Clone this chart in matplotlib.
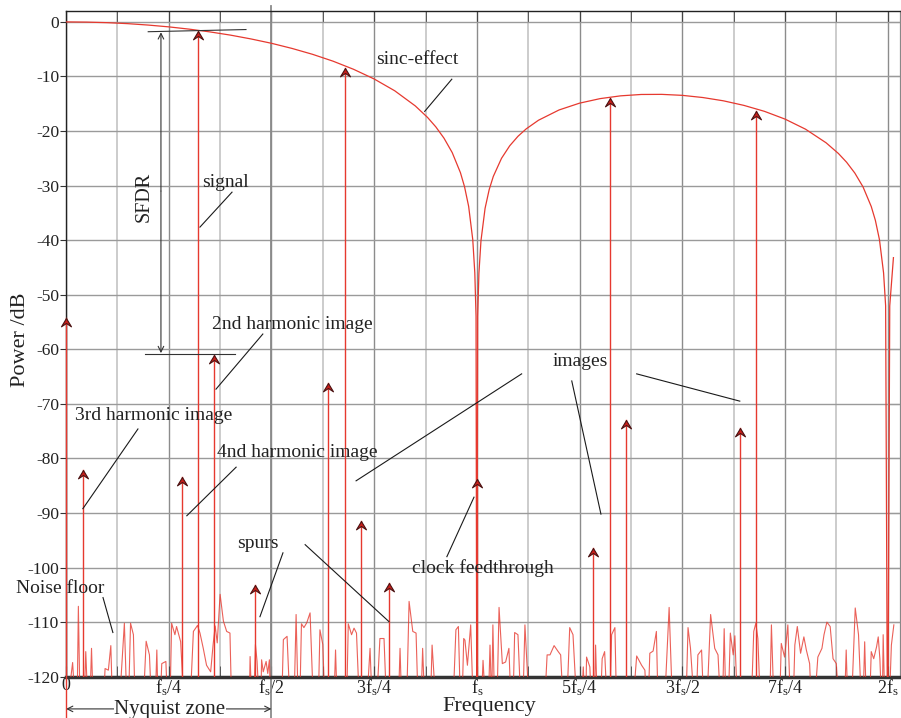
import numpy as np
import matplotlib
matplotlib.use("Agg")
import matplotlib.pyplot as plt
from matplotlib.path import Path

plt.rcParams['font.family'] = ['Liberation Serif', 'DejaVu Serif']
plt.rcParams['mathtext.fontset'] = 'custom'
plt.rcParams['mathtext.rm'] = 'Liberation Serif'
plt.rcParams['mathtext.it'] = 'Liberation Serif:italic'

# frequency in units of fs, power in dB
sinc_f = [0.0, 0.05, 0.1, 0.15, 0.2, 0.25, 0.3, 0.35, 0.4, 0.45, 0.5, 0.55, 0.6, 0.65,
          0.7, 0.75, 0.8, 0.85, 0.88, 0.9, 0.92, 0.94, 0.96, 0.97, 0.98, 0.99, 0.995, 0.998,
          1.0, 1.002, 1.005, 1.01, 1.02, 1.03, 1.04, 1.06, 1.08, 1.1, 1.12, 1.15, 1.2, 1.25,
          1.3, 1.35, 1.4, 1.45, 1.5, 1.55, 1.6, 1.65, 1.7, 1.75, 1.8, 1.85, 1.88, 1.9,
          1.92, 1.94, 1.96, 1.97, 1.98, 1.99, 1.995, 2.0, 2.005, 2.014]
sinc_db = [0.0, -0.04, -0.14, -0.32, -0.58, -0.91, -1.33, -1.83, -2.42, -3.12, -3.92, -4.86, -5.94, -7.20,
           -8.69, -10.46, -12.62, -15.39, -17.51, -19.23, -21.31, -23.95, -27.63, -30.21, -33.81, -39.9, -45.98, -53.96,
           -140.0, -54.0, -46.06, -40.1, -34.16, -30.73, -28.32, -25.0, -22.70, -20.97, -19.61, -18.02, -16.14, -14.89,
           -14.06, -13.55, -13.30, -13.28, -13.46, -13.86, -14.46, -15.30, -16.39, -17.81, -19.66, -22.15, -24.11, -25.72,
           -27.70, -30.24, -33.83, -36.36, -39.92, -46.0, -52.02, -140.0, -52.06, -43.2]

tone_f = [0.0, 0.041, 0.282, 0.321, 0.360, 0.459, 0.637, 0.679, 0.718, 0.786,
          1.0, 1.282, 1.324, 1.362, 1.640, 1.679]
tone_db = [-54.3, -82.1, -83.4, -1.7, -61.0, -103.2, -66.2, -8.5, -91.4, -102.8,
           -83.7, -96.4, -14.0, -72.9, -74.4, -16.4]

noise_f = [0.004, 0.016, 0.022, 0.027, 0.030, 0.034, 0.044, 0.048, 0.053, 0.058, 0.062, 0.066,
           0.091, 0.095, 0.103, 0.109, 0.113, 0.130, 0.142, 0.148, 0.152, 0.157, 0.164, 0.168,
           0.188, 0.195, 0.203, 0.208, 0.217, 0.221, 0.224, 0.229, 0.233, 0.243, 0.247, 0.253,
           0.257, 0.265, 0.269, 0.279, 0.287, 0.302, 0.310, 0.320, 0.326, 0.334, 0.342, 0.352,
           0.358, 0.363, 0.368, 0.375, 0.383, 0.391, 0.399, 0.403, 0.446, 0.448, 0.452, 0.457,
           0.461, 0.465, 0.470, 0.474, 0.476, 0.480, 0.487, 0.491, 0.495, 0.498, 0.525, 0.529,
           0.538, 0.545, 0.555, 0.560, 0.565, 0.569, 0.573, 0.579, 0.586, 0.594, 0.602, 0.614,
           0.618, 0.625, 0.630, 0.652, 0.656, 0.660, 0.683, 0.687, 0.695, 0.701, 0.707, 0.714,
           0.732, 0.740, 0.745, 0.756, 0.764, 0.774, 0.780, 0.809, 0.813, 0.817, 0.829, 0.835,
           0.844, 0.852, 0.857, 0.864, 0.868, 0.873, 0.887, 0.891, 0.900, 0.942, 0.949, 0.955,
           0.960, 0.964, 0.968, 0.971, 0.977, 0.985, 0.991, 1.011, 1.015, 1.021, 1.028, 1.032,
           1.036, 1.039, 1.043, 1.049, 1.054, 1.062, 1.070, 1.078, 1.083, 1.088, 1.092, 1.100,
           1.107, 1.112, 1.117, 1.127, 1.165, 1.171, 1.178, 1.188, 1.198, 1.204, 1.210, 1.219,
           1.226, 1.234, 1.243, 1.255, 1.259, 1.263, 1.265, 1.267, 1.275, 1.279, 1.286, 1.289,
           1.293, 1.301, 1.305, 1.311, 1.317, 1.324, 1.328, 1.336, 1.340, 1.380, 1.389, 1.401,
           1.409, 1.413, 1.417, 1.421, 1.429, 1.437, 1.441, 1.457, 1.468, 1.476, 1.509, 1.514,
           1.520, 1.529, 1.534, 1.538, 1.547, 1.552, 1.560, 1.569, 1.579, 1.587, 1.593, 1.598,
           1.602, 1.606, 1.612, 1.617, 1.624, 1.628, 1.634, 1.668, 1.674, 1.679, 1.684, 1.690,
           1.713, 1.717, 1.723, 1.737, 1.741, 1.749, 1.757, 1.763, 1.770, 1.774, 1.780, 1.788,
           1.796, 1.802, 1.810, 1.814, 1.822, 1.830, 1.840, 1.845, 1.852, 1.860, 1.867, 1.875,
           1.881, 1.895, 1.899, 1.903, 1.912, 1.921, 1.929, 1.936, 1.940, 1.944, 1.948, 1.956,
           1.960, 1.966, 1.973, 1.977, 1.981, 1.985, 1.987, 1.989, 1.993, 2.004, 2.009, 2.015]
noise_db = [-125, -117.4, -125, -125, -107.1, -125, -125, -115.4, -125, -125, -114.8, -125,
            -125, -118.5, -118.8, -114.3, -125, -125, -110.2, -125, -125, -110.2, -112.3, -125,
            -125, -113.5, -116.0, -125, -125, -115.1, -125, -125, -117.6, -117.2, -125, -125,
            -110.2, -112.3, -110.8, -113.6, -125, -125, -111.7, -110.6, -112.0, -114.8, -117.9, -119.1,
            -114.1, -110.7, -113.8, -104.9, -109.8, -111.7, -112.0, -125, -125, -116.3, -125, -125,
            -114.1, -117.2, -125, -125, -116.9, -119.1, -117.2, -119.4, -116.9, -125, -125, -113.2,
            -112.6, -125, -125, -108.6, -125, -125, -110.3, -111.0, -110.1, -108.3, -125, -125,
            -111.4, -114.1, -125, -125, -115.1, -125, -125, -110.3, -112.3, -111.1, -112.0, -125,
            -125, -114.8, -125, -125, -113.0, -113.0, -125, -125, -114.8, -125, -125, -106.2,
            -111.7, -112.0, -125, -125, -114.8, -125, -125, -114.2, -125, -125, -111.4, -110.8,
            -125, -125, -113.0, -113.3, -117.9, -110.5, -125, -125, -117.0, -125, -125, -114.2,
            -125, -110.5, -125, -125, -107.3, -117.6, -117.3, -114.8, -125, -125, -111.9, -112.3,
            -125, -125, -110.5, -125, -125, -116.0, -116.0, -114.3, -115.4, -116.0, -125, -125,
            -111.0, -112.3, -125, -125, -118.2, -125, -125, -116.4, -118.2, -125, -125, -114.2,
            -125, -125, -116.7, -115.4, -125, -125, -112.3, -111.0, -125, -125, -116.2, -117.9,
            -118.8, -125, -125, -115.7, -115.3, -111.7, -125, -125, -107.3, -125, -125, -111.0,
            -114.8, -125, -125, -116.0, -115.1, -125, -125, -108.6, -114.8, -116.0, -125, -125,
            -111.2, -125, -125, -112.0, -116.0, -112.5, -125, -125, -111.7, -110.2, -113.0, -125,
            -125, -110.5, -125, -125, -113.9, -116.4, -110.5, -125, -125, -114.2, -110.8, -115.7,
            -112.7, -115.1, -117.6, -125, -125, -116.4, -114.8, -112.3, -110.0, -110.8, -116.7, -117.6,
            -125, -125, -115.1, -125, -125, -107.4, -112.3, -125, -125, -113.6, -125, -125,
            -115.4, -116.7, -114.5, -112.7, -116.7, -125, -125, -112.3, -125, -125, -114.2, -110.5]

x_ticks = [0, 0.25, 0.5, 0.75, 1.0, 1.25, 1.5, 1.75, 2.0]
x_labels = ['0', r'$\mathrm{f_s/4}$', r'$\mathrm{f_s/2}$', r'$\mathrm{3f_s/4}$', r'$\mathrm{f_s}$',
            r'$\mathrm{5f_s/4}$', r'$\mathrm{3f_s/2}$', r'$\mathrm{7f_s/4}$', r'$\mathrm{2f_s}$']
y_ticks = list(range(0, -121, -10))

RED = '#e6392f'
TXT = '#222222'

fig = plt.figure(figsize=(9.01, 7.18), dpi=100)
ax = fig.add_axes([0.0733, 0.0575, 0.9256, 0.9272])
ax.set_xlim(0, 2.03)
ax.set_ylim(-120, 2)

# grid
ax.set_xticks(x_ticks)
ax.set_xticks(np.arange(0.125, 2.03, 0.25), minor=True)
ax.set_yticks(y_ticks)
ax.grid(which='major', axis='x', color='#8c8c8c', lw=1.0)
ax.grid(which='minor', axis='x', color='#c4c4c4', lw=1.2)
ax.grid(which='major', axis='y', color='#9a9a9a', lw=1.0)
ax.set_axisbelow(True)

# Nyquist boundary line running past the frame
ax.plot([0.5, 0.5], [3.0, -127.8], color='#8a8a8a', lw=1.3, clip_on=False, zorder=1)

# sinc envelope
ax.plot(sinc_f, sinc_db, color=RED, lw=0.9, zorder=3)

# noise floor
ax.plot(noise_f, noise_db, color=RED, lw=0.8, alpha=0.8, zorder=3)

# spectral lines with arrow heads
chevron = Path([(0, 0), (0.6, -1.0), (0, -0.6), (-0.6, -1.0), (0, 0)],
               [Path.MOVETO, Path.LINETO, Path.LINETO, Path.LINETO, Path.CLOSEPOLY])
for f, db in zip(tone_f, tone_db):
    bottom = -127.8 if f == 0 else -120
    ax.plot([f, f], [bottom, db], color=RED, lw=1.0, zorder=4, clip_on=(f != 0))
ax.plot(tone_f, tone_db, ls='none', marker=chevron, ms=12, mfc='#c81e1a',
        mec='#4a1212', mew=0.8, zorder=5, clip_on=False)

# SFDR dimension
ax.plot([0.200, 0.438], [-1.8, -1.4], color='#333333', lw=0.8, zorder=4)
ax.plot([0.192, 0.411], [-60.9, -60.9], color='#333333', lw=0.8, zorder=4)
ax.annotate('', xy=(0.231, -1.9), xytext=(0.231, -31),
            arrowprops=dict(arrowstyle='->', color='#333333', lw=0.8, shrinkA=0, shrinkB=0))
ax.annotate('', xy=(0.231, -60.7), xytext=(0.231, -31),
            arrowprops=dict(arrowstyle='->', color='#333333', lw=0.8, shrinkA=0, shrinkB=0))
ax.text(0.190, -32.1, 'SFDR', rotation=90, ha='center', va='center', fontsize=14.5, color=TXT)

# labels with leader lines
notes = [
    ('sinc-effect', (0.854, -6.8), [((0.939, -10.5), (0.873, -16.4))]),
    ('signal', (0.389, -29.4), [((0.404, -31.2), (0.326, -37.6))]),
    ('2nd harmonic image', (0.550, -55.4), [((0.479, -57.2), (0.365, -67.3))]),
    ('3rd harmonic image', (0.212, -72.2), [((0.175, -74.6), (0.041, -89.2))]),
    ('4nd harmonic image', (0.562, -79.0), [((0.414, -81.6), (0.294, -90.5))]),
    ('images', (1.251, -62.3), [((1.109, -64.5), (0.706, -84.1)),
                                ((1.231, -65.8), (1.302, -90.2)),
                                ((1.389, -64.5), (1.640, -69.5))]),
    ('clock feedthrough', (1.015, -100.0), [((0.927, -98.0), (0.993, -87.1))]),
    ('spurs', (0.467, -95.5), [((0.528, -97.3), (0.472, -109.0)),
                               ((0.582, -95.8), (0.786, -109.9))]),
    ('Noise floor', (-0.015, -103.9), [((0.090, -105.5), (0.114, -111.9))]),
]
for txt, pos, lines in notes:
    ax.text(pos[0], pos[1], txt, ha='center', va='center', fontsize=14, color=TXT, zorder=6)
    for (x0, y0), (x1, y1) in lines:
        ax.plot([x0, x1], [y0, y1], color='#1a1a1a', lw=0.8, zorder=6)

# Nyquist zone arrow and x label
ax.annotate('', xy=(0.0, -125.9), xytext=(0.5, -125.9), annotation_clip=False,
            arrowprops=dict(arrowstyle='<->', color='#333333', lw=0.8, shrinkA=0, shrinkB=0))
ax.text(0.253, -126.0, 'Nyquist zone', ha='center', va='center', fontsize=15, color=TXT,
        bbox=dict(fc='white', ec='none', pad=0.5), clip_on=False, zorder=7)
ax.text(1.029, -126.2, 'Frequency', ha='center', va='baseline', fontsize=16, color=TXT, clip_on=False)
ax.set_ylabel('Power /dB', fontsize=16, color=TXT)
ax.yaxis.set_label_coords(-0.043, 0.506)

# axes styling
ax.set_xticklabels(x_labels, fontsize=13, color=TXT)
ax.set_yticklabels([str(v) for v in y_ticks], fontsize=12.5, color=TXT)
ax.tick_params(axis='y', which='major', direction='out', length=4, color='#333333', pad=1)
ax.tick_params(axis='x', which='both', direction='in', length=8, color='#444444', top=True, pad=0.5)
for s in ['left', 'top']:
    ax.spines[s].set_color('#222222')
    ax.spines[s].set_linewidth(1.0)
ax.spines['right'].set_color('#888888')
ax.spines['bottom'].set_color('#333333')
ax.spines['bottom'].set_linewidth(2.5)
# right-hand inward ticks
ax2 = ax.secondary_yaxis('right')
ax2.set_yticks(y_ticks)
ax2.tick_params(direction='in', length=8, color='#555555', labelright=False)
ax2.spines['right'].set_color('#888888')

fig.savefig('out.png', dpi=100)
